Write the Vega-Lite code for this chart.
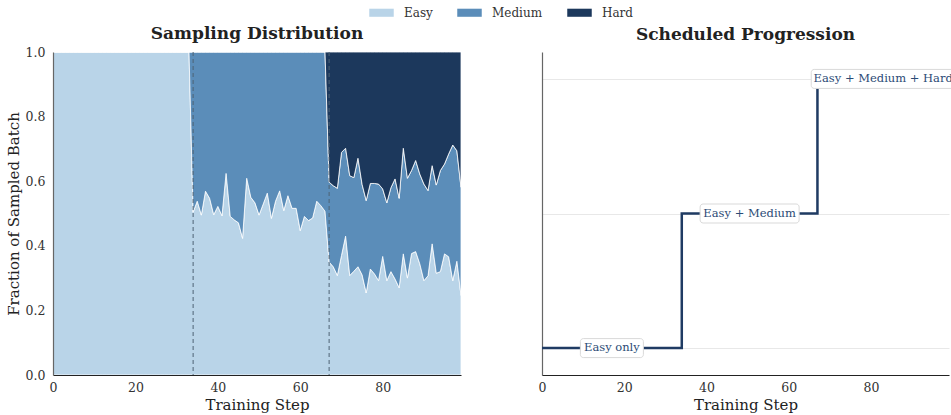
{
  "$schema": "https://vega.github.io/schema/vega-lite/v6.json",
  "padding": {"left": 6, "top": 0, "right": 0, "bottom": 0},
  "background": "white",
  "datasets": {
    "progress": [
      {"Step":0,"Easy":1,"Medium":0,"Hard":0,"Stage":1},{"Step":1,"Easy":1,"Medium":0,"Hard":0,"Stage":1},{"Step":2,"Easy":1,"Medium":0,"Hard":0,"Stage":1},{"Step":3,"Easy":1,"Medium":0,"Hard":0,"Stage":1},{"Step":4,"Easy":1,"Medium":0,"Hard":0,"Stage":1},{"Step":5,"Easy":1,"Medium":0,"Hard":0,"Stage":1},{"Step":6,"Easy":1,"Medium":0,"Hard":0,"Stage":1},{"Step":7,"Easy":1,"Medium":0,"Hard":0,"Stage":1},{"Step":8,"Easy":1,"Medium":0,"Hard":0,"Stage":1},{"Step":9,"Easy":1,"Medium":0,"Hard":0,"Stage":1},
      {"Step":10,"Easy":1,"Medium":0,"Hard":0,"Stage":1},{"Step":11,"Easy":1,"Medium":0,"Hard":0,"Stage":1},{"Step":12,"Easy":1,"Medium":0,"Hard":0,"Stage":1},{"Step":13,"Easy":1,"Medium":0,"Hard":0,"Stage":1},{"Step":14,"Easy":1,"Medium":0,"Hard":0,"Stage":1},{"Step":15,"Easy":1,"Medium":0,"Hard":0,"Stage":1},{"Step":16,"Easy":1,"Medium":0,"Hard":0,"Stage":1},{"Step":17,"Easy":1,"Medium":0,"Hard":0,"Stage":1},{"Step":18,"Easy":1,"Medium":0,"Hard":0,"Stage":1},{"Step":19,"Easy":1,"Medium":0,"Hard":0,"Stage":1},
      {"Step":20,"Easy":1,"Medium":0,"Hard":0,"Stage":1},{"Step":21,"Easy":1,"Medium":0,"Hard":0,"Stage":1},{"Step":22,"Easy":1,"Medium":0,"Hard":0,"Stage":1},{"Step":23,"Easy":1,"Medium":0,"Hard":0,"Stage":1},{"Step":24,"Easy":1,"Medium":0,"Hard":0,"Stage":1},{"Step":25,"Easy":1,"Medium":0,"Hard":0,"Stage":1},{"Step":26,"Easy":1,"Medium":0,"Hard":0,"Stage":1},{"Step":27,"Easy":1,"Medium":0,"Hard":0,"Stage":1},{"Step":28,"Easy":1,"Medium":0,"Hard":0,"Stage":1},{"Step":29,"Easy":1,"Medium":0,"Hard":0,"Stage":1},
      {"Step":30,"Easy":1,"Medium":0,"Hard":0,"Stage":1},{"Step":31,"Easy":1,"Medium":0,"Hard":0,"Stage":1},{"Step":32,"Easy":1,"Medium":0,"Hard":0,"Stage":1},{"Step":33,"Easy":1,"Medium":0,"Hard":0,"Stage":1},
      {"Step":34,"Easy":0.504,"Medium":0.496,"Hard":0,"Stage":2},{"Step":35,"Easy":0.538,"Medium":0.462,"Hard":0,"Stage":2},{"Step":36,"Easy":0.495,"Medium":0.505,"Hard":0,"Stage":2},{"Step":37,"Easy":0.569,"Medium":0.431,"Hard":0,"Stage":2},{"Step":38,"Easy":0.547,"Medium":0.453,"Hard":0,"Stage":2},{"Step":39,"Easy":0.496,"Medium":0.504,"Hard":0,"Stage":2},
      {"Step":40,"Easy":0.522,"Medium":0.478,"Hard":0,"Stage":2},{"Step":41,"Easy":0.493,"Medium":0.507,"Hard":0,"Stage":2},{"Step":42,"Easy":0.624,"Medium":0.376,"Hard":0,"Stage":2},{"Step":43,"Easy":0.491,"Medium":0.509,"Hard":0,"Stage":2},{"Step":44,"Easy":0.48,"Medium":0.52,"Hard":0,"Stage":2},{"Step":45,"Easy":0.471,"Medium":0.529,"Hard":0,"Stage":2},{"Step":46,"Easy":0.423,"Medium":0.577,"Hard":0,"Stage":2},{"Step":47,"Easy":0.609,"Medium":0.391,"Hard":0,"Stage":2},{"Step":48,"Easy":0.55,"Medium":0.45,"Hard":0,"Stage":2},{"Step":49,"Easy":0.533,"Medium":0.467,"Hard":0,"Stage":2},
      {"Step":50,"Easy":0.495,"Medium":0.505,"Hard":0,"Stage":2},{"Step":51,"Easy":0.529,"Medium":0.471,"Hard":0,"Stage":2},{"Step":52,"Easy":0.563,"Medium":0.437,"Hard":0,"Stage":2},{"Step":53,"Easy":0.485,"Medium":0.515,"Hard":0,"Stage":2},{"Step":54,"Easy":0.538,"Medium":0.462,"Hard":0,"Stage":2},{"Step":55,"Easy":0.57,"Medium":0.43,"Hard":0,"Stage":2},{"Step":56,"Easy":0.509,"Medium":0.491,"Hard":0,"Stage":2},{"Step":57,"Easy":0.555,"Medium":0.445,"Hard":0,"Stage":2},{"Step":58,"Easy":0.516,"Medium":0.484,"Hard":0,"Stage":2},{"Step":59,"Easy":0.516,"Medium":0.484,"Hard":0,"Stage":2},
      {"Step":60,"Easy":0.447,"Medium":0.553,"Hard":0,"Stage":2},{"Step":61,"Easy":0.491,"Medium":0.509,"Hard":0,"Stage":2},{"Step":62,"Easy":0.478,"Medium":0.522,"Hard":0,"Stage":2},{"Step":63,"Easy":0.486,"Medium":0.514,"Hard":0,"Stage":2},{"Step":64,"Easy":0.538,"Medium":0.462,"Hard":0,"Stage":2},{"Step":65,"Easy":0.524,"Medium":0.476,"Hard":0,"Stage":2},{"Step":66,"Easy":0.507,"Medium":0.493,"Hard":0,"Stage":2},
      {"Step":67,"Easy":0.35,"Medium":0.247,"Hard":0.403,"Stage":3},{"Step":68,"Easy":0.335,"Medium":0.251,"Hard":0.414,"Stage":3},{"Step":69,"Easy":0.308,"Medium":0.27,"Hard":0.422,"Stage":3},
      {"Step":70,"Easy":0.37,"Medium":0.319,"Hard":0.311,"Stage":3},{"Step":71,"Easy":0.43,"Medium":0.272,"Hard":0.298,"Stage":3},{"Step":72,"Easy":0.308,"Medium":0.309,"Hard":0.383,"Stage":3},{"Step":73,"Easy":0.321,"Medium":0.29,"Hard":0.389,"Stage":3},{"Step":74,"Easy":0.335,"Medium":0.336,"Hard":0.329,"Stage":3},{"Step":75,"Easy":0.31,"Medium":0.28,"Hard":0.41,"Stage":3},{"Step":76,"Easy":0.254,"Medium":0.286,"Hard":0.46,"Stage":3},{"Step":77,"Easy":0.328,"Medium":0.265,"Hard":0.407,"Stage":3},{"Step":78,"Easy":0.313,"Medium":0.28,"Hard":0.407,"Stage":3},{"Step":79,"Easy":0.292,"Medium":0.299,"Hard":0.409,"Stage":3},
      {"Step":80,"Easy":0.367,"Medium":0.209,"Hard":0.424,"Stage":3},{"Step":81,"Easy":0.292,"Medium":0.241,"Hard":0.467,"Stage":3},{"Step":82,"Easy":0.32,"Medium":0.26,"Hard":0.42,"Stage":3},{"Step":83,"Easy":0.297,"Medium":0.31,"Hard":0.393,"Stage":3},{"Step":84,"Easy":0.27,"Medium":0.277,"Hard":0.453,"Stage":3},{"Step":85,"Easy":0.375,"Medium":0.327,"Hard":0.298,"Stage":3},{"Step":86,"Easy":0.3,"Medium":0.309,"Hard":0.391,"Stage":3},{"Step":87,"Easy":0.376,"Medium":0.257,"Hard":0.367,"Stage":3},{"Step":88,"Easy":0.382,"Medium":0.282,"Hard":0.336,"Stage":3},{"Step":89,"Easy":0.344,"Medium":0.278,"Hard":0.378,"Stage":3},
      {"Step":90,"Easy":0.292,"Medium":0.299,"Hard":0.409,"Stage":3},{"Step":91,"Easy":0.307,"Medium":0.264,"Hard":0.429,"Stage":3},{"Step":92,"Easy":0.406,"Medium":0.242,"Hard":0.352,"Stage":3},{"Step":93,"Easy":0.315,"Medium":0.273,"Hard":0.412,"Stage":3},{"Step":94,"Easy":0.32,"Medium":0.313,"Hard":0.367,"Stage":3},{"Step":95,"Easy":0.375,"Medium":0.278,"Hard":0.347,"Stage":3},{"Step":96,"Easy":0.366,"Medium":0.318,"Hard":0.316,"Stage":3},{"Step":97,"Easy":0.292,"Medium":0.42,"Hard":0.288,"Stage":3},{"Step":98,"Easy":0.352,"Medium":0.342,"Hard":0.306,"Stage":3},{"Step":99,"Easy":0.246,"Medium":0.335,"Hard":0.419,"Stage":3}
    ],
    "labels": [
      {"Pos": 17, "Stage": 1, "Label": "Easy only"},
      {"Pos": 50.5, "Stage": 2, "Label": "Easy + Medium"},
      {"Pos": 83, "Stage": 3, "Label": "Easy + Medium + Hard"}
    ],
    "phases": [{"Step": 34}, {"Step": 67}]
  },
  "hconcat": [
    {
      "width": 408,
      "height": 323,
      "title": {"text": "Sampling Distribution", "offset": 3},
      "layer": [
        {
          "data": {"name": "progress"},
          "transform": [
            {"fold": ["Easy", "Medium", "Hard"], "as": ["Difficulty", "Fraction"]},
            {"window": [{"op": "row_number", "as": "Layer"}], "groupby": ["Step"]}
          ],
          "mark": {"type": "area", "stroke": "white", "strokeWidth": 0.8, "opacity": 1},
          "encoding": {
            "x": {"field": "Step", "type": "quantitative", "scale": {"domain": [0, 99], "nice": false, "zero": false},
                  "axis": {"values": [0, 20, 40, 60, 80], "title": "Training Step", "zindex": 1}},
            "y": {"field": "Fraction", "type": "quantitative", "stack": "zero", "scale": {"domain": [0, 1], "nice": false},
                  "axis": {"values": [0, 0.2, 0.4, 0.6, 0.8, 1.0], "format": ".1f", "title": "Fraction of Sampled Batch", "domainColor": "#666", "zindex": 1, "labelPadding": 8}},
            "order": {"field": "Layer", "type": "quantitative", "sort": "ascending"},
            "color": {"field": "Difficulty", "type": "nominal", "sort": ["Easy", "Medium", "Hard"],
                      "scale": {"domain": ["Easy", "Medium", "Hard"], "range": ["#b9d4e8", "#5b8db9", "#1c385c"]},
                      "legend": {"orient": "none", "direction": "horizontal", "columns": 3, "legendX": 316, "legendY": -52, "title": null,
                                 "symbolType": "M-1,-0.33H1V0.33H-1Z", "symbolSize": 600, "symbolStrokeWidth": 0,
                                 "labelFontSize": 12, "labelFont": "DejaVu Serif", "labelColor": "#333", "labelOffset": 10, "columnPadding": 24}}
          }
        },
        {
          "data": {"name": "phases"},
          "mark": {"type": "rule", "color": "#4d6275", "strokeDash": [4, 3], "strokeWidth": 1},
          "encoding": {"x": {"field": "Step", "type": "quantitative"}}
        }
      ]
    },
    {
      "width": 407,
      "height": 323,
      "title": {"text": "Scheduled Progression", "offset": 8},
      "layer": [
        {
          "data": {"name": "progress"},
          "mark": {"type": "line", "interpolate": "step-after", "color": "#1f3b63", "strokeWidth": 2.5},
          "encoding": {
            "x": {"field": "Step", "type": "quantitative", "scale": {"domain": [0, 99], "nice": false, "zero": false},
                  "axis": {"values": [0, 20, 40, 60, 80], "title": "Training Step", "zindex": 1}},
            "y": {"field": "Stage", "type": "quantitative", "scale": {"domain": [0.8, 3.2], "nice": false, "zero": false},
                  "axis": {"values": [1, 2, 3], "labels": false, "title": null, "grid": true, "gridColor": "#e8e8e8", "gridWidth": 1, "domainColor": "#666"}}
          }
        },
        {
          "data": {"name": "labels"},
          "transform": [{"filter": "datum.Label == 'Easy only'"}],
          "mark": {"type": "rect", "fill": "white", "stroke": "#d9d9d9", "strokeWidth": 1, "cornerRadius": 3, "width": 63, "height": 19},
          "encoding": {"x": {"field": "Pos", "type": "quantitative"}, "y": {"field": "Stage", "type": "quantitative"}}
        },
        {
          "data": {"name": "labels"},
          "transform": [{"filter": "datum.Label == 'Easy + Medium'"}],
          "mark": {"type": "rect", "fill": "white", "stroke": "#d9d9d9", "strokeWidth": 1, "cornerRadius": 3, "width": 99, "height": 19},
          "encoding": {"x": {"field": "Pos", "type": "quantitative"}, "y": {"field": "Stage", "type": "quantitative"}}
        },
        {
          "data": {"name": "labels"},
          "transform": [{"filter": "datum.Label == 'Easy + Medium + Hard'"}],
          "mark": {"type": "rect", "fill": "white", "stroke": "#d9d9d9", "strokeWidth": 1, "cornerRadius": 3, "width": 144, "height": 19},
          "encoding": {"x": {"field": "Pos", "type": "quantitative"}, "y": {"field": "Stage", "type": "quantitative"}}
        },
        {
          "data": {"name": "labels"},
          "mark": {"type": "text", "font": "DejaVu Serif", "fontSize": 11.5, "color": "#2b4a75", "align": "center", "baseline": "middle"},
          "encoding": {"x": {"field": "Pos", "type": "quantitative"}, "y": {"field": "Stage", "type": "quantitative"}, "text": {"field": "Label"}}
        }
      ]
    }
  ],
  "spacing": 74,
  "config": {
    "font": "DejaVu Serif",
    "view": {"stroke": null},
    "axis": {"labelFont": "DejaVu Serif", "titleFont": "DejaVu Serif", "labelFontSize": 12.5, "titleFontSize": 15, "titleFontWeight": "normal", "labelFlush": false,
             "labelColor": "#333", "titleColor": "#222", "ticks": false, "grid": false, "domainColor": "#222", "domainWidth": 1.2, "labelPadding": 6, "titlePadding": 4},
    "title": {"font": "DejaVu Serif", "fontSize": 17, "fontWeight": "bold", "color": "#222", "anchor": "middle"}
  }
}
